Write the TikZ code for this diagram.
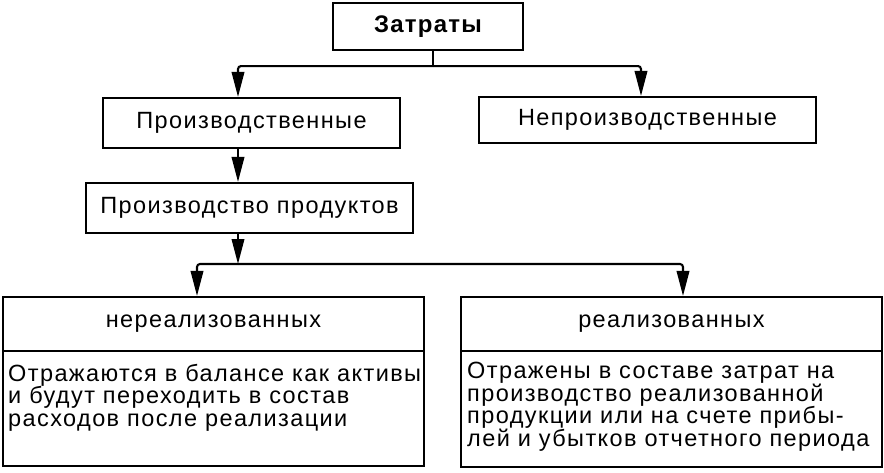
\documentclass[tikz,border=0pt]{standalone}
\usepackage{fontspec}
\setmainfont{Liberation Sans}[LetterSpace=6]
\usetikzlibrary{arrows.meta}
\newcommand{\bodyfont}{\fontsize{23.5}{22.5}\selectfont}
\begin{document}
\begin{tikzpicture}[x=1pt,y=-1pt,
  box/.style={draw, line width=2.1pt, inner sep=0pt, font=\bodyfont},
  line/.style={line width=2.1pt, rounded corners=3pt},
  arr/.style={line width=2.1pt, rounded corners=3pt, -{Triangle[length=25pt,width=12.5pt]}},
  bodytext/.style={anchor=north west, align=left, inner sep=0pt, font=\bodyfont}]
\useasboundingbox (0,0) rectangle (884,472);
\node[box, minimum width=190pt, minimum height=47pt, font=\fontsize{24}{24}\selectfont\bfseries\addfontfeature{LetterSpace=5}] (Z) at (428,26.5) {Затраты};
\node[box, minimum width=297pt, minimum height=50pt] (P) at (251.5,123) {Производственные};
\node[box, minimum width=337pt, minimum height=46pt] (N) at (647.5,120) {Непроизводственные};
\node[box, minimum width=327pt, minimum height=50pt] (PP) at (249.5,208) {Производство продуктов};
\node[box, minimum width=421pt, minimum height=54pt] (LH) at (213.5,324) {нереализованных};
\node[box, minimum width=421pt, minimum height=115pt] (LB) at (213.5,408.5) {};
\node[box, minimum width=421pt, minimum height=54pt] (RH) at (671.5,324) {реализованных};
\node[box, minimum width=421pt, minimum height=116pt] (RB) at (671.5,409) {};
\node[bodytext] (LT) at (8,364) {Отражаются в балансе как активы\\и будут переходить в состав\\расходов после реализации};
\node[bodytext] (RT) at (467,362) {Отражены в составе затрат на\\производство реализованной\\продукции или на счете прибы-\\лей и убытков отчетного периода};
% connectors
\draw[line] ([xshift=5pt]Z.south) -- ++(0,15) coordinate (j1);
\draw[arr] (j1) -| ([xshift=-13.5pt]P.north);
\draw[arr] (j1) -| ([xshift=-6.5pt]N.north);
\draw[arr] ([xshift=-13.5pt]P.south) -- ([xshift=-11.5pt]PP.north);
\coordinate (j2) at (238,264);
\draw[arr] ([xshift=-11.5pt]PP.south) -- (j2);
\draw[arr] (j2) -| ([xshift=-16.5pt]LH.north);
\draw[arr] (j2) -| ([xshift=11.5pt]RH.north);
\end{tikzpicture}
\end{document}
